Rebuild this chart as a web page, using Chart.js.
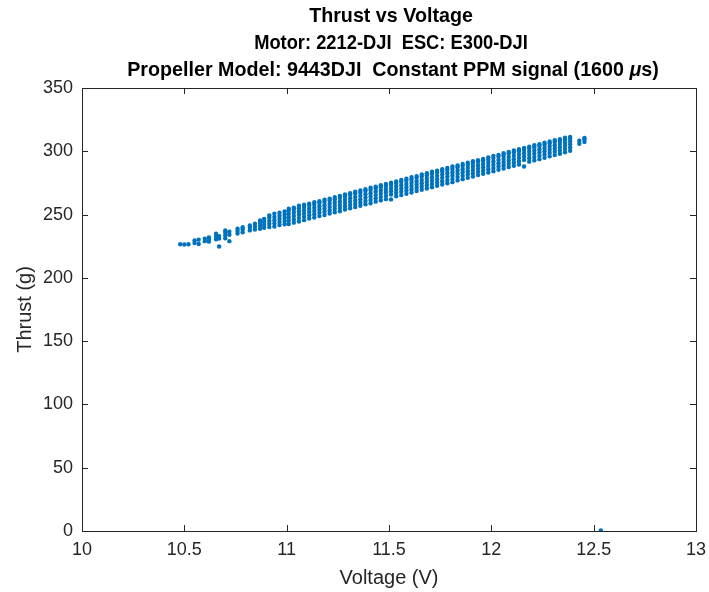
<!DOCTYPE html>
<html>
<head>
<meta charset="utf-8">
<script src="https://cdn.jsdelivr.net/npm/chart.js@4/dist/chart.umd.min.js"></script>
<style>
  html, body { margin: 0; padding: 0; background: #fff; }
  #wrap { width: 709px; height: 592px; }
</style>
</head>
<body>
<div id="wrap"><canvas id="thrustChart" width="709" height="592"></canvas></div>
<script>
// DATA: voltage steps and the thrust readings logged at each step
const voltageSteps = [
  10.48, 10.50, 10.52, 10.55, 10.57, 10.60, 10.62, 10.655, 10.67, 10.70,
  10.72, 10.76, 10.785, 10.82, 10.845, 10.87, 10.89, 10.915, 10.94, 10.965,
  10.99, 11.01, 11.035, 11.06, 11.085, 11.11, 11.135, 11.16, 11.185, 11.21,
  11.235, 11.26, 11.285, 11.31, 11.335, 11.36, 11.385, 11.41, 11.435, 11.46,
  11.485, 11.51, 11.535, 11.56, 11.585, 11.61, 11.635, 11.66, 11.685, 11.71,
  11.735, 11.76, 11.785, 11.81, 11.835, 11.86, 11.885, 11.91, 11.935, 11.96,
  11.985, 12.01, 12.035, 12.06, 12.085, 12.11, 12.135, 12.16, 12.185, 12.21,
  12.235, 12.26, 12.285, 12.31, 12.335, 12.36, 12.385, 12.43, 12.455, 12.535
];

const thrustReadings = [
  [226.5], [226.3], [226.6], [227.5, 229.5], [226.8, 230.2],
  [229.0, 231.0], [228.6, 230.5, 232.0], [230.5, 232.5, 234.8], [224.8, 231.0, 233.0], [231.2, 233.5, 235.8, 237.5],
  [229.0, 234.0, 236.5], [235.0, 237.0, 238.8], [236.0, 238.4, 240.0], [237.5, 239.6, 241.4], [238.2, 240.5, 242.8],
  [238.8, 241.2, 243.5, 245.4], [239.6, 242.0, 244.4, 246.6], [240.2, 242.8, 245.2, 247.6, 249.4],
  [240.5, 243.0, 245.5, 248.0, 250.6], [241.8, 244.2, 246.6, 249.0, 251.5], [242.4, 245.0, 247.5, 250.0, 252.4],
  [242.6, 245.2, 247.8, 250.4, 253.0, 254.6], [243.6, 246.2, 248.8, 251.4, 254.0, 255.5],
  [244.5, 247.2, 249.8, 252.4, 255.0, 257.0], [245.6, 248.2, 250.8, 253.4, 256.0, 257.8],
  [246.8, 249.4, 252.0, 254.6, 257.2, 258.6], [247.6, 250.2, 252.8, 255.4, 258.0, 259.8],
  [248.8, 251.4, 254.0, 256.6, 259.2, 260.6], [249.6, 252.2, 254.8, 257.4, 260.0, 261.8],
  [250.8, 253.4, 256.0, 258.6, 261.2, 262.6], [251.8, 254.4, 257.0, 259.6, 262.2, 263.8],
  [252.6, 255.2, 257.8, 260.4, 263.0, 264.8], [254.0, 256.6, 259.2, 261.8, 264.4, 265.8],
  [255.0, 257.6, 260.2, 262.8, 265.4, 266.8], [256.0, 258.6, 261.2, 263.8, 266.4, 268.0],
  [257.0, 259.6, 262.2, 264.8, 267.4, 269.0], [258.2, 260.8, 263.4, 266.0, 268.6, 270.0],
  [259.0, 261.6, 264.2, 266.8, 269.4, 271.2], [260.2, 262.8, 265.4, 268.0, 270.6, 272.0],
  [261.2, 263.8, 266.4, 269.0, 271.6, 273.2], [262.2, 264.8, 267.4, 270.0, 272.6, 274.2],
  [262.0, 265.8, 268.4, 271.0, 273.6, 275.2], [264.4, 267.0, 269.6, 272.2, 274.8, 276.2],
  [265.4, 268.0, 270.6, 273.2, 275.8, 277.4], [266.4, 269.0, 271.6, 274.2, 276.8, 278.4],
  [267.4, 270.0, 272.6, 275.2, 277.8, 279.6], [268.6, 271.2, 273.8, 276.4, 279.0, 280.4],
  [269.6, 272.2, 274.8, 277.4, 280.0, 281.6], [270.6, 273.2, 275.8, 278.4, 281.0, 282.6],
  [271.6, 274.2, 276.8, 279.4, 282.0, 283.8], [272.8, 275.4, 278.0, 280.6, 283.2, 284.6],
  [273.8, 276.4, 279.0, 281.6, 284.2, 285.8], [274.8, 277.4, 280.0, 282.6, 285.2, 286.8],
  [275.6, 278.2, 280.8, 283.4, 286.0, 288.0], [277.0, 279.6, 282.2, 284.8, 287.4, 288.8],
  [278.0, 280.6, 283.2, 285.8, 288.4, 290.0], [279.0, 281.6, 284.2, 286.8, 289.4, 291.0],
  [280.0, 282.6, 285.2, 287.8, 290.4, 292.2], [281.2, 283.8, 286.4, 289.0, 291.6, 293.0],
  [282.2, 284.8, 287.4, 290.0, 292.6, 294.0], [283.2, 285.8, 288.4, 291.0, 293.6, 295.2],
  [284.2, 286.8, 289.4, 292.0, 294.6, 296.4], [285.4, 288.0, 290.6, 293.2, 295.8, 297.2],
  [286.4, 289.0, 291.6, 294.2, 296.8, 298.4], [287.6, 290.2, 292.8, 295.4, 298.0, 299.4],
  [288.6, 291.2, 293.8, 296.4, 299.0, 300.6], [289.6, 292.2, 294.8, 297.4, 300.0, 301.6],
  [288.0, 293.2, 295.8, 298.4, 301.0, 302.6], [291.8, 294.4, 297.0, 299.6, 302.2, 303.6],
  [292.8, 295.4, 298.0, 300.6, 303.2, 304.8], [293.8, 296.4, 299.0, 301.6, 304.2, 305.6],
  [294.8, 297.4, 300.0, 302.6, 305.2, 306.8], [296.0, 298.6, 301.2, 303.8, 306.4, 307.8],
  [297.0, 299.6, 302.2, 304.8, 307.4, 308.8], [298.0, 300.6, 303.2, 305.8, 308.2, 309.6],
  [299.2, 301.8, 304.4, 307.0, 309.4, 310.8], [300.4, 303.0, 305.6, 308.0, 310.2, 311.4],
  [306.0, 308.4], [307.4, 309.6, 310.6], [0.5]
];

const xTicks = [10, 10.5, 11, 11.5, 12, 12.5, 13];
const yTicks = [0, 50, 100, 150, 200, 250, 300, 350];
const titleLines = ['Thrust vs Voltage', 'Motor: 2212-DJI  ESC: E300-DJI', 'Propeller Model: 9443DJI  Constant PPM signal (1600 ', 'μ', 's)'];

// flatten into scatter points
const points = [];
voltageSteps.forEach((v, i) => {
  thrustReadings[i].forEach(t => points.push({ x: v, y: t }));
});

const FONT = "'Liberation Sans', Arial, Helvetica, sans-serif";
const AXIS_COLOR = '#262626';

// box + inward ticks on all four sides (MATLAB look)
const boxPlugin = {
  id: 'boxTicks',
  afterDraw(chart) {
    const { ctx, chartArea: a, scales } = chart;
    const len = 6;
    ctx.save();
    ctx.strokeStyle = AXIS_COLOR;
    ctx.lineWidth = 1;
    ctx.strokeRect(a.left + 0.5, a.top + 0.5, a.right - a.left, a.bottom - a.top);
    ctx.beginPath();
    xTicks.forEach(v => {
      const px = Math.round(scales.x.getPixelForValue(v)) + 0.5;
      ctx.moveTo(px, a.bottom); ctx.lineTo(px, a.bottom - len);
      ctx.moveTo(px, a.top); ctx.lineTo(px, a.top + len);
    });
    yTicks.forEach(v => {
      const py = Math.round(scales.y.getPixelForValue(v)) + 0.5;
      ctx.moveTo(a.left, py); ctx.lineTo(a.left + len, py);
      ctx.moveTo(a.right, py); ctx.lineTo(a.right - len, py);
    });
    ctx.stroke();
    ctx.restore();
  }
};

// three bold title lines, mu in italics
const titlePlugin = {
  id: 'mtitle',
  afterDraw(chart) {
    const { ctx, chartArea: a } = chart;
    const cx = (a.left + a.right) / 2;
    const bold = 'bold 19.7px ' + FONT;
    const ital = 'bold italic 19.7px ' + FONT;
    ctx.save();
    ctx.fillStyle = '#000';
    ctx.textBaseline = 'middle';
    ctx.textAlign = 'center';
    ctx.font = bold;
    ctx.fillText(titleLines[0], cx + 2, 17);
    // second line is a touch narrower in the original
    ctx.save();
    ctx.translate(cx + 2, 44);
    ctx.scale(0.93, 1);
    ctx.fillText(titleLines[1], 0, 0);
    ctx.restore();
    // third line built from pieces
    const w1 = ctx.measureText(titleLines[2]).width;
    const w3 = ctx.measureText(titleLines[4]).width;
    ctx.font = ital;
    const w2 = ctx.measureText(titleLines[3]).width;
    let x = cx + 4 - (w1 + w2 + w3) / 2;
    ctx.textAlign = 'left';
    ctx.font = bold; ctx.fillText(titleLines[2], x, 71); x += w1;
    ctx.font = ital; ctx.fillText(titleLines[3], x, 71); x += w2;
    ctx.font = bold; ctx.fillText(titleLines[4], x, 71);
    ctx.restore();
  }
};

new Chart(document.getElementById('thrustChart'), {
  type: 'scatter',
  data: {
    datasets: [{
      data: points,
      backgroundColor: '#0072BD',
      borderWidth: 0,
      pointRadius: 2.2,
      pointHoverRadius: 2.2
    }]
  },
  options: {
    responsive: false,
    animation: false,
    layout: { padding: { top: 88, right: 13, left: 0, bottom: 0 } },
    plugins: { legend: { display: false }, tooltip: { enabled: false } },
    scales: {
      x: {
        type: 'linear',
        min: 10, max: 13,
        afterFit: s => { s.height = 61; s.paddingLeft = 0; s.paddingRight = 0; },
        afterBuildTicks: s => { s.ticks = xTicks.map(v => ({ value: v })); },
        grid: { display: false, drawTicks: false },
        border: { display: false },
        ticks: { color: AXIS_COLOR, font: { family: FONT, size: 18 }, padding: 8, maxRotation: 0, callback: v => String(v) },
        title: { display: true, text: 'Voltage (V)', color: AXIS_COLOR, font: { family: FONT, size: 20 }, padding: { top: 0, bottom: 2 } }
      },
      y: {
        type: 'linear',
        min: 0, max: 350,
        afterFit: s => { s.width = 82; s.paddingTop = 0; s.paddingBottom = 0; },
        afterBuildTicks: s => { s.ticks = yTicks.map(v => ({ value: v })); },
        grid: { display: false, drawTicks: false },
        border: { display: false },
        ticks: { color: AXIS_COLOR, font: { family: FONT, size: 18 }, padding: 9, callback: v => String(v) },
        title: { display: true, text: 'Thrust (g)', color: AXIS_COLOR, font: { family: FONT, size: 20 }, padding: { top: 13, bottom: 0 } }
      }
    }
  },
  plugins: [boxPlugin, titlePlugin]
});
</script>
</body>
</html>
